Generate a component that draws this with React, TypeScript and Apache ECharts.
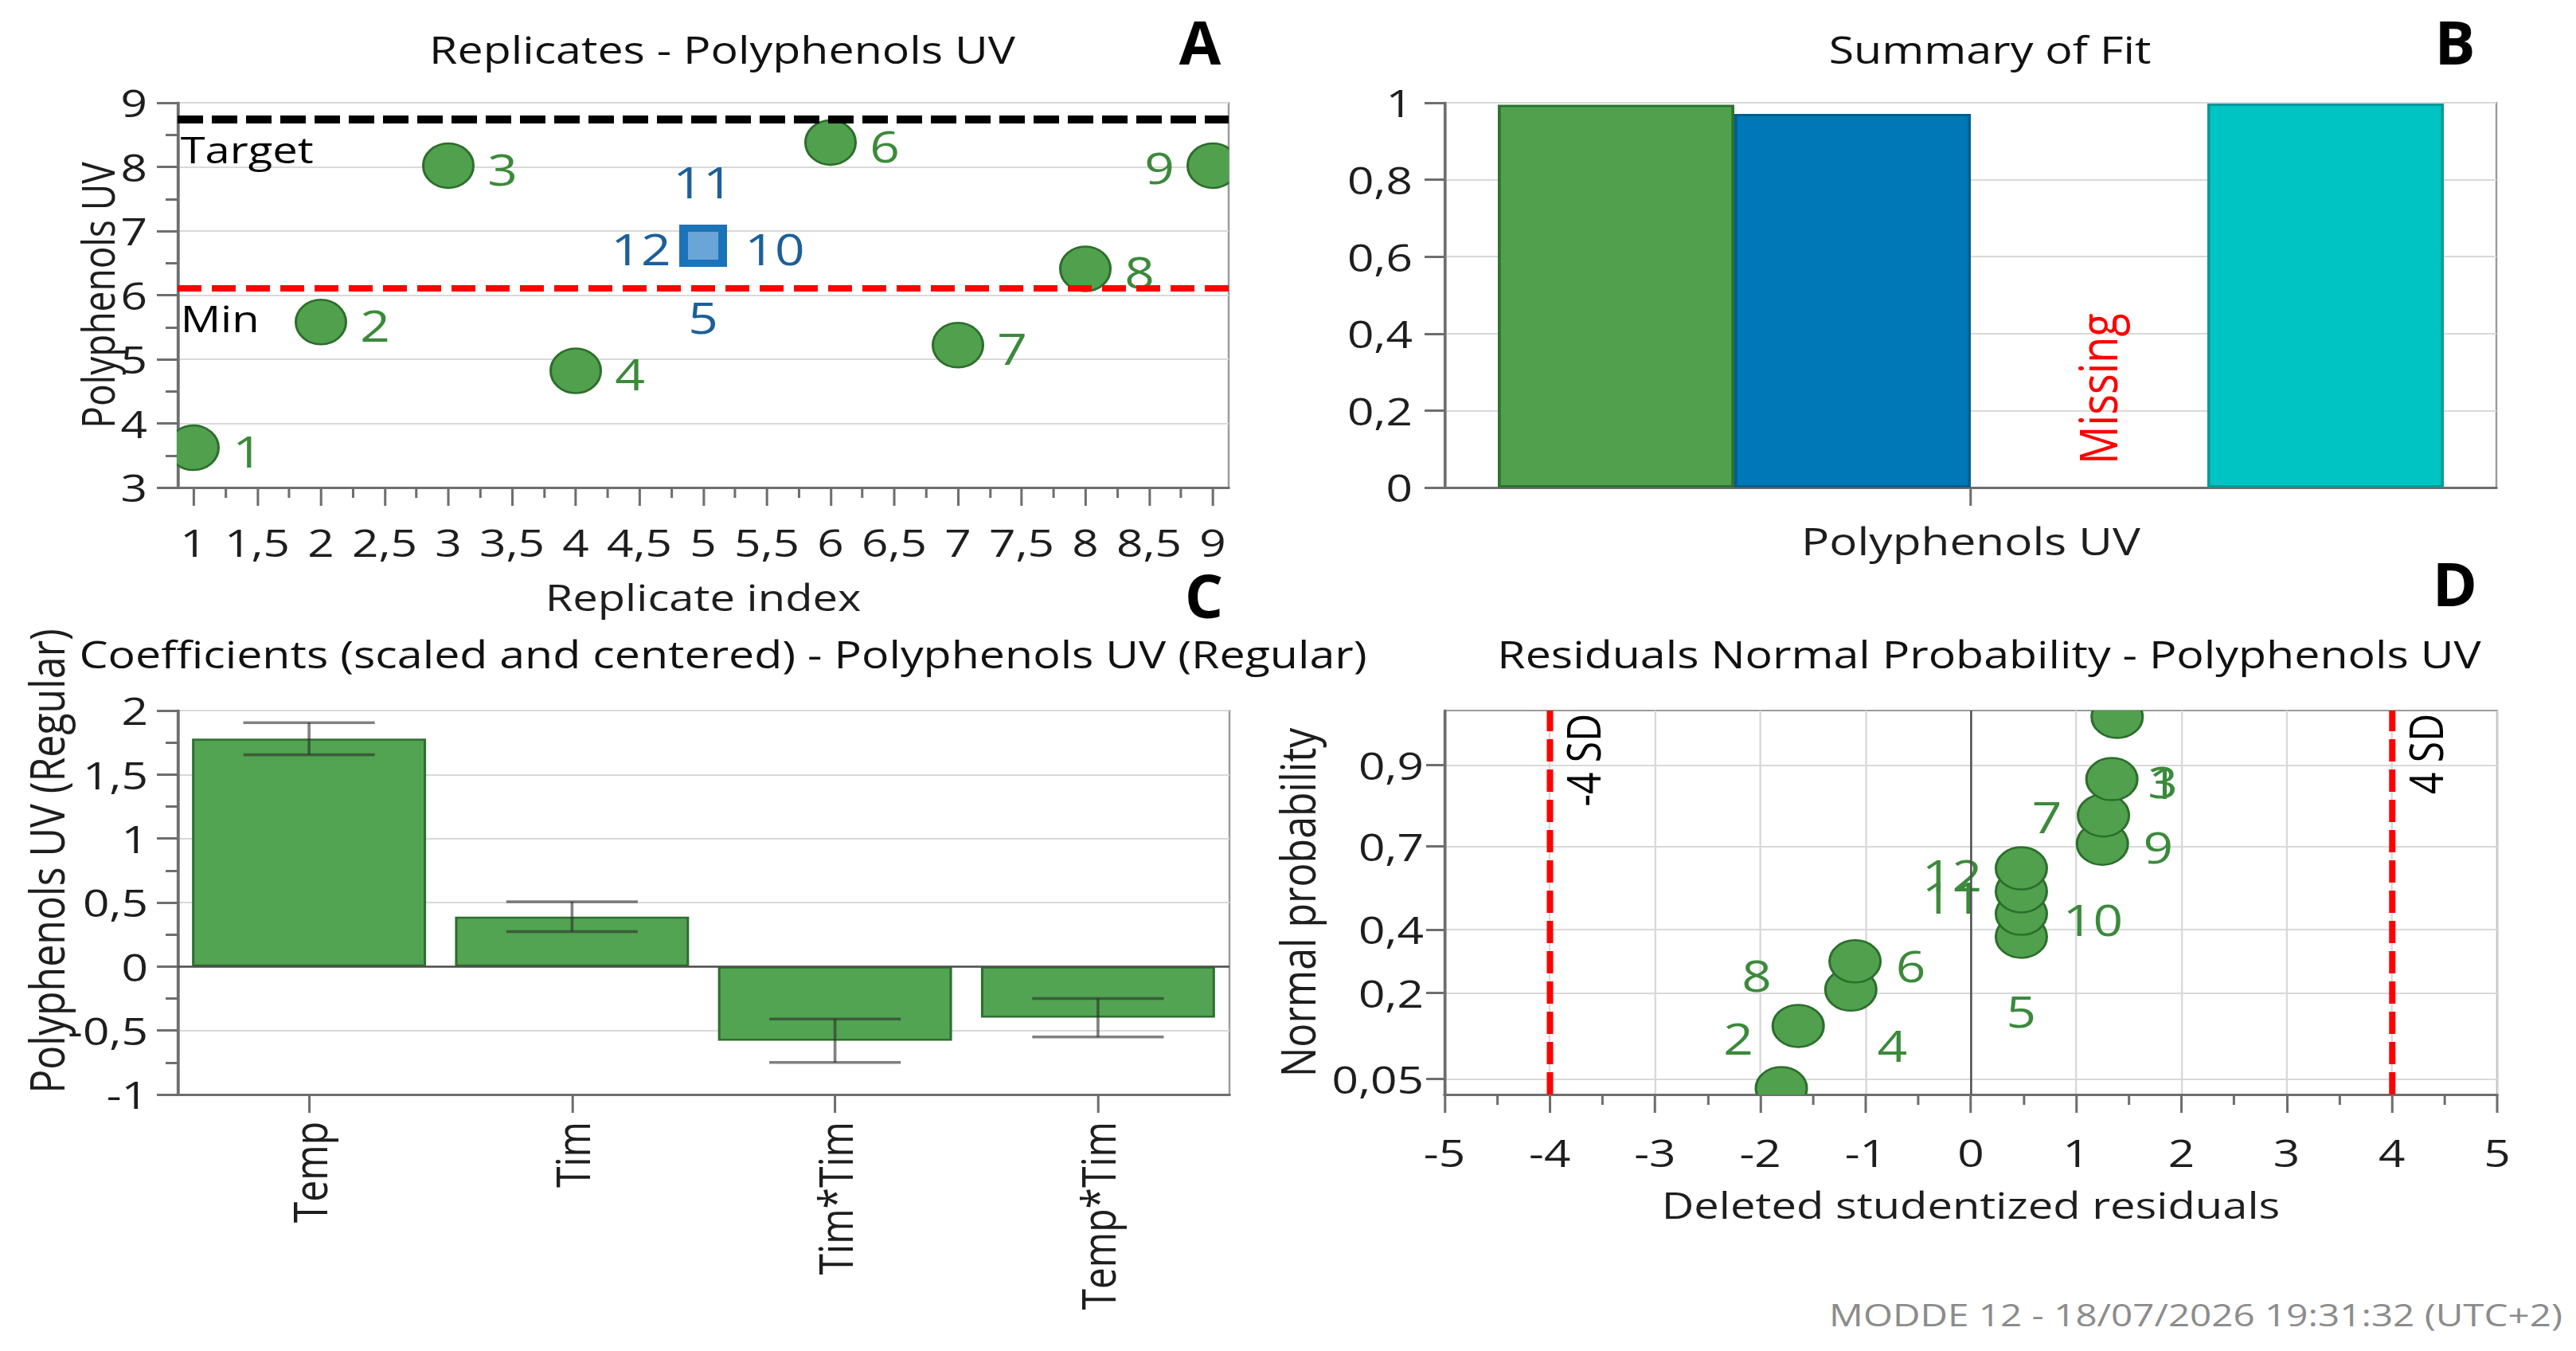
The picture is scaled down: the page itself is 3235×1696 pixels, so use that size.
import React, { useEffect, useRef } from "react";
import * as echarts from "echarts";

const FONT = "'Open Sans', 'Noto Sans', 'DejaVu Sans', sans-serif";
const PAGE_W = 3235;
const PAGE_H = 1696;
// the figure is drawn on a narrower canvas and widened horizontally by this factor
const SX = 1.22;
const CANVAS_W = PAGE_W / SX;
const hx = (x: number) => x / SX;

// ---- A: replicate plot ----
const runNames = ["1", "2", "3", "4", "5", "6", "7", "8", "9", "10", "11", "12"];
const replicateIndex = [1, 2, 3, 4, 5, 6, 7, 8, 9, 5, 5, 5];
const polyphenolsUV = [3.62, 5.58, 8.02, 4.82, 6.77, 8.38, 5.22, 6.41, 8.02, 6.77, 6.77, 6.77];
const centerPointRuns = ["5", "10", "11", "12"];
const targetLevel = 8.74;
const minLevel = 6.11;
const replicateTicks = [1, 1.5, 2, 2.5, 3, 3.5, 4, 4.5, 5, 5.5, 6, 6.5, 7, 7.5, 8, 8.5, 9];
const replicateMinorTicks = [1.25, 1.75, 2.25, 2.75, 3.25, 3.75, 4.25, 4.75, 5.25, 5.75, 6.25, 6.75, 7.25, 7.75, 8.25, 8.75];

// ---- B: summary of fit ----
const fitResponses = ["Polyphenols UV"];
const fitR2 = [0.995];
const fitQ2 = [0.971];
const fitModelValidity = [null];
const fitReproducibility = [0.998];

// ---- C: scaled and centered coefficients ----
const coefTerms = ["Temp", "Tim", "Tim*Tim", "Temp*Tim"];
const coefValues = [1.78, 0.39, -0.58, -0.4];
const coefConfInt = [0.125, 0.117, 0.17, 0.15];

// ---- D: residuals normal probability ----
const residualRuns = ["8", "2", "4", "6", "5", "10", "11", "12", "9", "7", "3", "1"];
const deletedResiduals = [-1.8, -1.64, -1.14, -1.1, 0.48, 0.48, 0.48, 0.48, 1.25, 1.26, 1.34, 1.39];
const normalProbability = [0.0417, 0.125, 0.2083, 0.2917, 0.375, 0.4583, 0.5417, 0.625, 0.7083, 0.7917, 0.875, 0.9583];
const probTicks = [0.05, 0.2, 0.4, 0.7, 0.9];
const probTickLabels = ["0,05", "0,2", "0,4", "0,7", "0,9"];
const sdLimits = [-4, 4];
const sdLabels = ["-4 SD", "4 SD"];

// label placement around markers (page-pixel offsets of the label centre)
const labelOffsetA: Record<string, [number, number]> = {
  "1": [68, 4], "2": [68, 4], "3": [68, 4], "4": [68, 4], "6": [68, 4], "7": [68, 4], "8": [68, 4],
  "9": [-67, 2], "5": [0, 90], "10": [90, 4], "11": [0, -80], "12": [-78, 4],
};
const labelOffsetD: Record<string, [number, number]> = {
  "8": [-31, -142], "2": [-75, 16], "4": [52, 70], "6": [70, 6], "5": [0, 93], "10": [90, 7],
  "11": [-87, 7], "12": [-87, 8], "9": [70, 4], "7": [-71, 2], "3": [64, 3], "1": [58, 82],
};

// inverse standard normal CDF (Acklam) – the probability axis transform
function invNorm(p: number): number {
  const a = [-39.69683028665376, 220.9460984245205, -275.9285104469687, 138.357751867269, -30.66479806614716, 2.506628277459239];
  const b = [-54.47609879822406, 161.5858368580409, -155.6989798598866, 66.80131188771972, -13.28068155288572];
  const c = [-0.007784894002430293, -0.3223964580411365, -2.400758277161838, -2.549732539343734, 4.374664141464968, 2.938163982698783];
  const d = [0.007784695709041462, 0.3224671290700398, 2.445134137142996, 3.754408661907416];
  const pl = 0.02425;
  if (p < pl) {
    const q = Math.sqrt(-2 * Math.log(p));
    return (((((c[0] * q + c[1]) * q + c[2]) * q + c[3]) * q + c[4]) * q + c[5]) / ((((d[0] * q + d[1]) * q + d[2]) * q + d[3]) * q + 1);
  }
  if (p > 1 - pl) {
    const q = Math.sqrt(-2 * Math.log(1 - p));
    return -(((((c[0] * q + c[1]) * q + c[2]) * q + c[3]) * q + c[4]) * q + c[5]) / ((((d[0] * q + d[1]) * q + d[2]) * q + d[3]) * q + 1);
  }
  const q = p - 0.5;
  const r = q * q;
  return ((((((a[0] * r + a[1]) * r + a[2]) * r + a[3]) * r + a[4]) * r + a[5]) * q) /
    (((((b[0] * r + b[1]) * r + b[2]) * r + b[3]) * r + b[4]) * r + 1);
}

const probTickZ = probTicks.map(invNorm);
const comma = (v: number) => String(+Number(v).toFixed(4)).replace(".", ",");

const AXIS_GRAY = "#6e6e6e";
const BORDER_GRAY = "#9b9b9b";
const GRID_GRAY = "#d9d9d9";
const TEXT = "#1e1e1e";
const GREEN_FILL = "#50a04d";
const GREEN_EDGE = "#2c6e2c";
const GREEN_TEXT = "#3b8a3b";
const BLUE_TEXT = "#1c5f99";

const txt = (size: number, color = TEXT) => ({ fontFamily: FONT, fontSize: size, color });
const axisLine = { show: true, onZero: false, lineStyle: { color: AXIS_GRAY, width: 3 } };
const tick = (len: number, w = 3) => ({ show: true, inside: false, length: len, lineStyle: { color: AXIS_GRAY, width: w } });
const minor = (len: number, w = 3) => ({ show: true, splitNumber: 2, length: len, lineStyle: { color: AXIS_GRAY, width: w } });
const split = { show: true, lineStyle: { color: GRID_GRAY, width: 2, type: "solid" } };

// axis indices
const XA = 0, XB = 2, XC = 3, XD = 4;
const YA = 0, YB = 1, YC = 2, YD = 3;

function buildOption() {
  const grids = [
    { left: 223, top: 129, width: 1320, height: 483 },
    { left: 1815, top: 129, width: 1320, height: 483 },
    { left: 223, top: 892, width: 1321, height: 482 },
    { left: 1814, top: 892, width: 1322, height: 482 },
  ].map((g) => ({
    left: hx(g.left), top: g.top, width: hx(g.width), height: g.height,
    show: true, borderColor: BORDER_GRAY, borderWidth: 2, backgroundColor: "transparent", containLabel: false, outerBoundsMode: "none",
  }));

  const replicateData = runNames.map((_, i) => [replicateIndex[i], polyphenolsUV[i], i]);
  const residualData = residualRuns.map((_, i) => [deletedResiduals[i], invNorm(normalProbability[i]), i]);

  const fitSeries = [
    { name: "R2", data: fitR2, color: "#50a04d", edge: "#2e7030" },
    { name: "Q2", data: fitQ2, color: "#0077b7", edge: "#005d8f" },
    { name: "Model validity", data: fitModelValidity, color: "#f2c200", edge: "#b08c00" },
    { name: "Reproducibility", data: fitReproducibility, color: "#00c4c4", edge: "#009999" },
  ];
  const missingSlots: number[][] = [];
  fitSeries.forEach((s, k) => s.data.forEach((v, c) => { if (v == null) missingSlots.push([c, 0, k]); }));

  return {
    animation: false,
    backgroundColor: "#ffffff",
    grid: grids,
    xAxis: [
      {
        type: "value", gridIndex: 0, min: 0.875, max: 9.125, position: "bottom",
        axisLine, axisTick: { ...tick(23, 2.5), customValues: replicateTicks },
        axisLabel: { ...txt(48), customValues: replicateTicks, formatter: comma, margin: 45 },
        splitLine: { show: false },
        name: "Replicate index", nameLocation: "middle", nameGap: 114, nameMoveOverlap: false, nameTextStyle: txt(46),
      },
      {
        type: "value", gridIndex: 0, min: 0.875, max: 9.125, position: "bottom",
        axisLine: { show: false }, axisTick: { ...tick(13, 2.5), customValues: replicateMinorTicks },
        axisLabel: { show: false }, splitLine: { show: false },
      },
      {
        type: "category", gridIndex: 1, data: fitResponses,
        axisLine, axisTick: { ...tick(23, 2.5), alignWithLabel: true },
        axisLabel: { ...txt(48), margin: 43 }, splitLine: { show: false },
      },
      {
        type: "category", gridIndex: 2, data: coefTerms,
        axisLine, axisTick: { ...tick(23, 2.5), alignWithLabel: true },
        axisLabel: { ...txt(48), rotate: 90, margin: 34, interval: 0 }, splitLine: { show: false },
      },
      {
        type: "value", gridIndex: 3, min: -5, max: 5, interval: 1,
        axisLine, axisTick: tick(23, 2.5), minorTick: minor(13, 2.5),
        axisLabel: { ...txt(48), margin: 49 }, splitLine: split,
        name: "Deleted studentized residuals", nameLocation: "middle", nameGap: 115, nameMoveOverlap: false, nameTextStyle: txt(46),
      },
    ],
    yAxis: [
      {
        type: "value", gridIndex: 0, min: 3, max: 9, interval: 1,
        axisLine, axisTick: tick(hx(26)), minorTick: minor(hx(15)),
        axisLabel: { ...txt(48), margin: hx(38) }, splitLine: split,
        name: "Polyphenols UV", nameLocation: "middle", nameGap: hx(73), nameRotate: 90, nameMoveOverlap: false, nameTextStyle: txt(46),
      },
      {
        type: "value", gridIndex: 1, min: 0, max: 1, interval: 0.2,
        axisLine, axisTick: tick(hx(26)),
        axisLabel: { ...txt(48), margin: hx(41), formatter: comma }, splitLine: split,
      },
      {
        type: "value", gridIndex: 2, min: -1, max: 2, interval: 0.5,
        axisLine, axisTick: tick(hx(26)), minorTick: minor(hx(15)),
        axisLabel: { ...txt(48), margin: hx(37), formatter: comma }, splitLine: split,
      },
      {
        type: "value", gridIndex: 3, min: -1.79, max: 1.79,
        axisLine, axisTick: { ...tick(hx(23)), customValues: probTickZ },
        axisLabel: {
          ...txt(48), margin: hx(26), customValues: probTickZ,
          formatter: (v: number) => {
            let best = 0;
            probTickZ.forEach((z, i) => { if (Math.abs(z - v) < Math.abs(probTickZ[best] - v)) best = i; });
            return probTickLabels[best];
          },
        },
        splitLine: split,
        name: "Normal probability", nameLocation: "middle", nameGap: hx(156), nameRotate: 90, nameMoveOverlap: false, nameTextStyle: txt(50),
      },
    ],
    series: [
      // A: runs and replicated centre points
      {
        type: "custom", name: "Polyphenols UV", xAxisIndex: XA, yAxisIndex: YA, clip: true, z: 3,
        encode: { x: 0, y: 1 }, data: replicateData,
        renderItem: (params: any, api: any) => {
          const i = api.value(2);
          const run = runNames[i];
          const p = api.coord([api.value(0), api.value(1)]);
          const isCenter = centerPointRuns.includes(run);
          const off = labelOffsetA[run];
          const w = hx(60) - 9, h = 53 - 9;
          const marker = isCenter
            ? { type: "rect", shape: { x: p[0] - w / 2, y: p[1] - h / 2, width: w, height: h }, style: { fill: "#6aa5d8", stroke: "#1b73b9", lineWidth: 9 } }
            : { type: "ellipse", shape: { cx: p[0], cy: p[1], rx: hx(31.5), ry: 28 }, style: { fill: GREEN_FILL, stroke: GREEN_EDGE, lineWidth: 2.5 } };
          return {
            type: "group",
            children: [
              marker,
              {
                type: "text", x: p[0] + hx(off[0]), y: p[1] + off[1], z2: 10,
                style: { text: run, fill: isCenter ? BLUE_TEXT : GREEN_TEXT, fontFamily: FONT, fontSize: 54, align: "center", verticalAlign: "middle" },
              },
            ],
          };
        },
        markLine: {
          silent: true, symbol: ["none", "none"], animation: false,
          data: [
            {
              yAxis: targetLevel, name: "Target",
              lineStyle: { color: "#000000", width: 10, type: [hx(32), hx(11)] },
              label: { show: true, position: "insideStartBottom", formatter: "{b}", distance: [3, 14], ...txt(46, "#000000") },
            },
            {
              yAxis: minLevel, name: "Min",
              lineStyle: { color: "#ff0000", width: 8, type: [hx(30), hx(13)] },
              label: { show: true, position: "insideStartBottom", formatter: "{b}", distance: [3, 14], ...txt(46, "#000000") },
            },
          ],
        },
      },
      // B: summary of fit bars
      ...fitSeries.map((s) => ({
        type: "bar", name: s.name, xAxisIndex: XB, yAxisIndex: YB, data: s.data,
        barGap: "0%", barCategoryGap: "10%",
        itemStyle: { color: s.color, borderColor: s.edge, borderWidth: 3 },
      })),
      {
        type: "custom", name: "Missing", xAxisIndex: XB, yAxisIndex: YB, z: 4,
        encode: { x: 0, y: 1 }, data: missingSlots,
        renderItem: (params: any, api: any) => {
          const base = api.coord([api.value(0), 0]);
          const band = api.size([1, 0])[0];
          const bw = (band * 0.9) / fitSeries.length;
          const x = base[0] - band * 0.45 + (api.value(2) + 0.5) * bw;
          return {
            type: "text", x: x + hx(10), y: base[1] - 29, rotation: Math.PI / 2,
            style: { text: "Missing", fill: "#ff0000", fontFamily: FONT, fontSize: 54, align: "left", verticalAlign: "middle" },
          };
        },
      },
      // C: coefficients with confidence intervals
      {
        type: "bar", name: "Coefficients", xAxisIndex: XC, yAxisIndex: YC, data: coefValues,
        barCategoryGap: "11%",
        itemStyle: { color: "#52a352", borderColor: "#2e6e30", borderWidth: 2.5 },
        markLine: {
          silent: true, symbol: ["none", "none"], animation: false,
          data: [{ yAxis: 0, lineStyle: { color: "#4d4d4d", width: 2.5, type: "solid" }, label: { show: false } }],
        },
      },
      {
        type: "custom", name: "Confidence interval", xAxisIndex: XC, yAxisIndex: YC, z: 6,
        encode: { x: 0, y: [1, 2] },
        data: coefTerms.map((_, i) => [i, coefValues[i] - coefConfInt[i], coefValues[i] + coefConfInt[i]]),
        renderItem: (params: any, api: any) => {
          const lo = api.coord([api.value(0), api.value(1)]);
          const hi = api.coord([api.value(0), api.value(2)]);
          const half = api.size([1, 0])[0] * 0.25;
          const style = { stroke: "rgba(45,45,45,0.6)", lineWidth: 3.5 };
          return {
            type: "group",
            children: [
              { type: "line", shape: { x1: lo[0], y1: lo[1], x2: hi[0], y2: hi[1] }, style: { ...style, lineWidth: 3 } },
              { type: "line", shape: { x1: lo[0] - half, y1: lo[1], x2: lo[0] + half, y2: lo[1] }, style },
              { type: "line", shape: { x1: hi[0] - half, y1: hi[1], x2: hi[0] + half, y2: hi[1] }, style },
            ],
          };
        },
      },
      // D: residuals on a normal probability scale
      {
        type: "custom", name: "Residuals", xAxisIndex: XD, yAxisIndex: YD, clip: true, z: 3,
        encode: { x: 0, y: 1 }, data: residualData,
        renderItem: (params: any, api: any) => {
          const i = api.value(2);
          const run = residualRuns[i];
          const p = api.coord([api.value(0), api.value(1)]);
          const off = labelOffsetD[run];
          return {
            type: "group",
            children: [
              { type: "ellipse", shape: { cx: p[0], cy: p[1], rx: hx(32), ry: 26.5 }, style: { fill: GREEN_FILL, stroke: GREEN_EDGE, lineWidth: 2.5 } },
              {
                type: "text", x: p[0] + hx(off[0]), y: p[1] + off[1], z2: 10,
                style: { text: run, fill: GREEN_TEXT, fontFamily: FONT, fontSize: 54, align: "center", verticalAlign: "middle" },
              },
            ],
          };
        },
        markLine: {
          silent: true, symbol: ["none", "none"], animation: false,
          data: [
            { xAxis: 0, lineStyle: { color: "#4d4d4d", width: 2, type: "solid" }, label: { show: false } },
            ...sdLimits.map((v, k) => ({
              xAxis: v, name: sdLabels[k],
              lineStyle: { color: "#ff0000", width: hx(8), type: [28, 10] },
              label: { show: true, position: "insideEndBottom", formatter: "{b}", distance: [4, 10], ...txt(48, "#000000") },
            })),
          ],
        },
      },
    ],
    graphic: [
      ...[
        { text: "Replicates - Polyphenols UV", x: 907, y: 62 },
        { text: "Summary of Fit", x: 2499, y: 62 },
        { text: "Coefficients (scaled and centered) - Polyphenols UV (Regular)", x: 908, y: 821 },
        { text: "Residuals Normal Probability - Polyphenols UV", x: 2498, y: 821 },
      ].map((t) => ({
        type: "text", x: hx(t.x), y: t.y,
        style: { text: t.text, fill: "#111111", fontFamily: FONT, fontSize: 47, align: "center", verticalAlign: "middle" },
      })),
      ...[
        { text: "A", x: 1507, y: 52 },
        { text: "B", x: 3083, y: 52 },
        { text: "C", x: 1512, y: 747 },
        { text: "D", x: 3083, y: 732 },
      ].map((t) => ({
        type: "text", x: hx(t.x), y: t.y, scaleX: 1 / SX,
        style: { text: t.text, fill: "#000000", fontFamily: FONT, fontSize: 76, fontWeight: "bold", align: "center", verticalAlign: "middle" },
      })),
      {
        type: "text", x: hx(57), y: 1081, rotation: Math.PI / 2,
        style: { text: "Polyphenols UV (Regular)", fill: TEXT, fontFamily: FONT, fontSize: 50, align: "center", verticalAlign: "middle" },
      },
      {
        type: "text", x: hx(3218), y: 1650,
        style: { text: "MODDE 12 - 18/07/2026 19:31:32 (UTC+2)", fill: "#8c8c8c", fontFamily: FONT, fontSize: 39, align: "right", verticalAlign: "middle" },
      },
    ],
  };
}

export default function App() {
  const ref = useRef<HTMLDivElement>(null);
  useEffect(() => {
    if (!ref.current) return;
    const chart = echarts.init(ref.current, null, { renderer: "svg" });
    chart.setOption(buildOption() as any);
    return () => chart.dispose();
  }, []);
  return (
    <div style={{ position: "fixed", left: 0, top: 0, width: PAGE_W, height: PAGE_H, background: "#ffffff", overflow: "hidden" }}>
      <div
        ref={ref}
        style={{ width: CANVAS_W, height: PAGE_H, transform: `scaleX(${SX})`, transformOrigin: "0 0" }}
      />
    </div>
  );
}
